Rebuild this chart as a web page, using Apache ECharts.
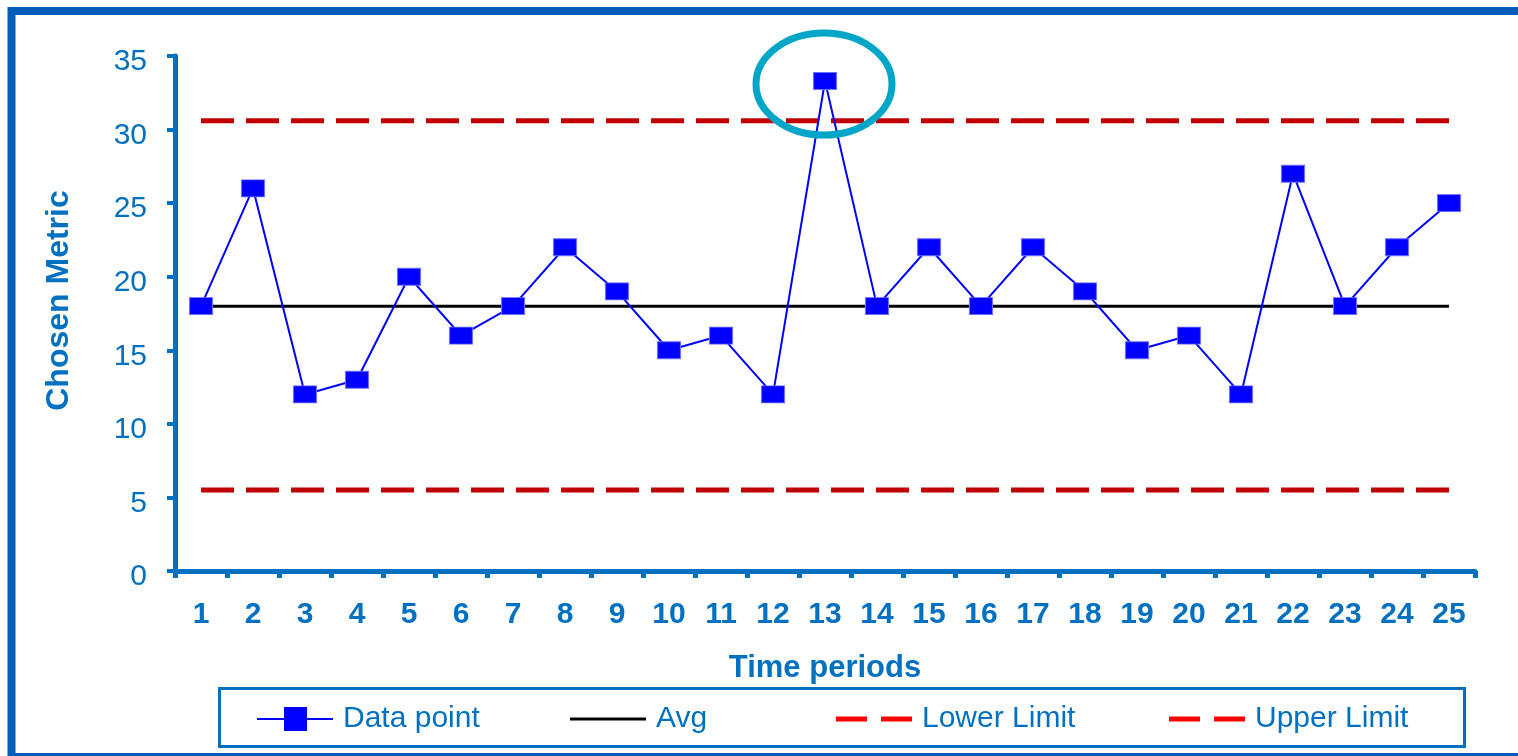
<!DOCTYPE html>
<html>
<head>
<meta charset="utf-8">
<script src="https://cdn.jsdelivr.net/npm/echarts@6/dist/echarts.min.js"></script>
<style>
  html, body { margin: 0; padding: 0; background: #ffffff; }
  #chart { width: 1518px; height: 756px; }
</style>
</head>
<body>
<div id="chart"></div>
<script>
// Control chart data: one measurement per time period plus centre line and limits
const periods = ['1','2','3','4','5','6','7','8','9','10','11','12','13','14','15','16','17','18','19','20','21','22','23','24','25'];
const dataPoints = [18, 26, 12, 13, 20, 16, 18, 22, 19, 15, 16, 12, 33.3, 18, 22, 18, 22, 19, 15, 16, 12, 27, 18, 22, 25];
const avgLine    = [18, 18, 18, 18, 18, 18, 18, 18, 18, 18, 18, 18, 18, 18, 18, 18, 18, 18, 18, 18, 18, 18, 18, 18, 18];
const lowerLimit = [5.5, 5.5, 5.5, 5.5, 5.5, 5.5, 5.5, 5.5, 5.5, 5.5, 5.5, 5.5, 5.5, 5.5, 5.5, 5.5, 5.5, 5.5, 5.5, 5.5, 5.5, 5.5, 5.5, 5.5, 5.5];
const upperLimit = [30.6, 30.6, 30.6, 30.6, 30.6, 30.6, 30.6, 30.6, 30.6, 30.6, 30.6, 30.6, 30.6, 30.6, 30.6, 30.6, 30.6, 30.6, 30.6, 30.6, 30.6, 30.6, 30.6, 30.6, 30.6];
const yMin = 0, yMax = 35, yStep = 5;
// The out-of-control period that gets circled
const flaggedPeriod = '13';
const flaggedValue = 33.3;

const FONT = "'Liberation Sans', Arial, sans-serif";
const AXIS_BLUE = '#0070C0';
const FRAME_BLUE = '#005EB8';

// Legend keys drawn as explicit shapes so each matches its series' look
const ICON_MARKER_LINE = 'path://M0,11h76v2h-76z M27,0h23v24h-23z';
const ICON_SOLID_LINE = 'path://M0,0h76v3h-76z';
const ICON_DASH_PAIR = 'path://M0,0h31v5h-31z M45,0h31v5h-31z';

const chart = echarts.init(document.getElementById('chart'), null, { renderer: 'canvas' });

const LEGEND_MID = 719;
function legendAt(name, left, icon, iconHeight, iconColor) {
  return {
    data: [{ name: name, icon: icon, itemStyle: { color: iconColor, borderWidth: 0 } }],
    left: left,
    top: LEGEND_MID - 18,
    padding: 0,
    itemWidth: 76,
    itemHeight: iconHeight,
    textStyle: {
      fontFamily: FONT, fontSize: 30, color: AXIS_BLUE,
      lineHeight: 36, height: 36, padding: [0, 0, 0, 5]
    },
    selectedMode: false
  };
}

chart.setOption({
  animation: false,
  backgroundColor: '#ffffff',
  grid: { left: 175, right: 43, top: 56, bottom: 185, containLabel: false },
  legend: [
    legendAt('Data point', 257, ICON_MARKER_LINE, 24, '#0000FF'),
    legendAt('Avg', 570, ICON_SOLID_LINE, 3, '#000000'),
    legendAt('Lower Limit', 836, ICON_DASH_PAIR, 5, '#FF0000'),
    legendAt('Upper Limit', 1169, ICON_DASH_PAIR, 5, '#FF0000')
  ],
  xAxis: {
    type: 'category',
    data: periods,
    boundaryGap: true,
    name: 'Time periods',
    nameLocation: 'middle',
    nameGap: 82,
    nameTextStyle: { fontFamily: FONT, fontSize: 31, fontWeight: 'bold', color: AXIS_BLUE },
    axisLine: { lineStyle: { color: AXIS_BLUE, width: 5 } },
    axisTick: { show: true, interval: 0, length: 7, lineStyle: { color: AXIS_BLUE, width: 5 } },
    axisLabel: { interval: 0, margin: 29, fontFamily: FONT, fontSize: 30, fontWeight: 'bold', color: AXIS_BLUE },
    splitLine: { show: false }
  },
  yAxis: {
    type: 'value',
    min: yMin,
    max: yMax,
    interval: yStep,
    name: 'Chosen Metric',
    nameLocation: 'middle',
    nameGap: 100,
    nameRotate: 90,
    nameTextStyle: {
      fontFamily: FONT, fontSize: 32, fontWeight: 'bold', color: AXIS_BLUE,
      padding: [0, 0, 0, 26]
    },
    axisLine: { show: true, lineStyle: { color: AXIS_BLUE, width: 5 } },
    axisTick: { show: true, length: 8, lineStyle: { color: AXIS_BLUE, width: 4 } },
    axisLabel: {
      margin: 28,
      formatter: '{v|{value}}',
      rich: { v: { fontFamily: FONT, fontSize: 30, color: AXIS_BLUE, padding: [12, 0, 0, 0] } }
    },
    splitLine: { show: false }
  },
  series: [
    {
      name: 'Lower Limit',
      type: 'line',
      data: lowerLimit,
      symbol: 'none',
      lineStyle: { color: '#C00000', width: 5, type: [33, 12] },
      itemStyle: { color: '#C00000' },
      z: 1
    },
    {
      name: 'Upper Limit',
      type: 'line',
      data: upperLimit,
      symbol: 'none',
      lineStyle: { color: '#C00000', width: 5, type: [33, 12] },
      itemStyle: { color: '#C00000' },
      z: 1
    },
    {
      name: 'Avg',
      type: 'line',
      data: avgLine,
      symbol: 'none',
      lineStyle: { color: '#000000', width: 3 },
      itemStyle: { color: '#000000' },
      z: 2
    },
    {
      name: 'Data point',
      type: 'line',
      data: dataPoints,
      symbol: 'rect',
      symbolSize: [23, 17],
      showAllSymbol: true,
      lineStyle: { color: '#0000FF', width: 2 },
      itemStyle: { color: '#0000FF', borderColor: '#6F6FFF', borderWidth: 1 },
      z: 3
    }
  ]
});

// Circle the point that falls outside the control limits, and frame the whole chart
const flagged = chart.convertToPixel({ gridIndex: 0 }, [flaggedPeriod, flaggedValue]);
chart.setOption({
  graphic: [
    {
      type: 'rect',
      id: 'frame',
      silent: true,
      shape: { x: 11.5, y: 11, width: 1620, height: 746 },
      style: { fill: null, stroke: FRAME_BLUE, lineWidth: 8 },
      z: 100
    },
    {
      type: 'rect',
      id: 'legendBox',
      silent: true,
      shape: { x: 219.5, y: 688.5, width: 1245, height: 58 },
      style: { fill: null, stroke: AXIS_BLUE, lineWidth: 3 },
      z: 100
    },
    {
      type: 'ellipse',
      id: 'flagRing',
      silent: true,
      shape: { cx: flagged[0] - 1, cy: flagged[1] + 3, rx: 68, ry: 51 },
      style: { fill: null, stroke: '#00A6C8', lineWidth: 7 },
      z: 100
    }
  ]
});
</script>
</body>
</html>
